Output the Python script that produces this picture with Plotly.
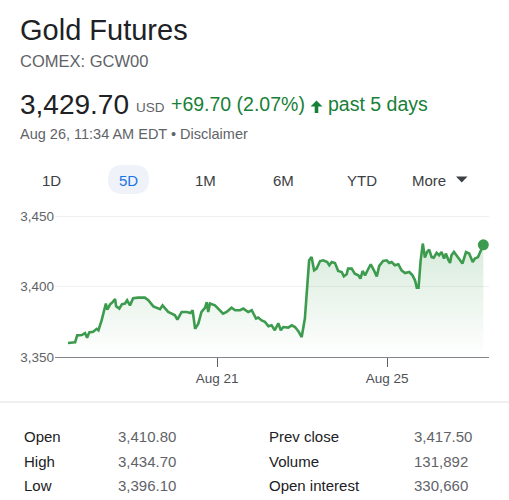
import plotly.graph_objects as go

# ---------------- data ----------------
# trading time in hours since the first point of the 5-day window
t_hours = [0, 2.0, 2.6, 3.9, 4.8, 5.4, 6.0, 7.1, 8.1, 8.6, 9.5, 10.0, 10.7, 11.1, 11.9, 12.6, 13.3, 13.6,
           14.5, 15.2, 16.1, 16.7, 17.5, 18.4, 19.8, 21.7, 22.7, 24.1, 25.2, 26.0, 26.7, 27.4, 28.3, 29.3,
           30.2, 30.9, 32.1, 33.5, 34.6, 35.2, 35.9, 36.8, 37.7, 38.7, 39.2, 39.6, 40.1, 41.5, 42.4, 43.8,
           44.8, 46.2, 47.2, 48.6, 49.5, 50.9, 51.9, 52.8,
           53.1, 53.7, 54.7, 55.6, 56.6, 57.5, 58.4, 59.4, 60.1, 60.8, 62.2, 63.2, 64.1, 65.0, 66.0, 66.9,
           67.6, 68.1, 68.8, 69.5, 70.2, 71.2, 72.1, 73.2, 73.8, 74.5, 75.4, 76.3, 77.3, 77.9, 78.7, 79.1,
           80.1, 81.0, 82.0, 82.6, 83.2, 83.9, 84.5, 85.5, 86.4, 87.2, 87.9, 89.0, 90.0, 90.7, 91.4, 92.3,
           93.3, 94.2, 95.2, 96.4, 97.3, 98.0, 98.5, 99.0, 99.6, 100.2, 100.8, 101.4, 102.0, 102.7, 103.3,
           104.1, 104.8, 105.5, 106.2, 106.7, 107.4, 107.9, 108.3, 109.0, 109.7, 110.5, 111.4, 112.4, 113.3,
           114.3, 114.9, 115.8, 116.5, 117.3]
price = [3360, 3360.4, 3365.4, 3365.6, 3367, 3363.7, 3367.5, 3368, 3370, 3369, 3376, 3380.8, 3388, 3383.6,
         3387.4, 3389, 3391.2, 3386, 3384.4, 3387.4, 3388, 3390.3, 3386.7, 3391.7, 3392.2, 3392.2, 3390.3,
         3386, 3385, 3384, 3386.7, 3384.4, 3382, 3380.8, 3379.6, 3376.5, 3382, 3382, 3381.3, 3383.2, 3370,
         3373.7, 3382, 3385, 3389, 3382, 3388, 3386.7, 3384.4, 3380.8, 3382, 3385, 3383.2, 3383.2, 3384.4,
         3382, 3383.2, 3378,
         3377.3, 3378, 3376, 3375, 3371.8, 3372.5, 3369, 3374, 3369, 3371.3, 3370.9, 3372.5, 3371.3, 3368.5,
         3364.2, 3377.3, 3402, 3418.7, 3421, 3411.6, 3412.8, 3418.2, 3418.7, 3417.5, 3415.2, 3417.5, 3416.8,
         3411.1, 3410.4, 3407.3, 3408.8, 3412.8, 3412.8, 3409.2, 3408, 3405.7, 3411.1, 3408, 3411.1, 3415.9,
         3411.6, 3407.3, 3414.7, 3418.2, 3418.7, 3416.8, 3417.5, 3415.2, 3415.9, 3411.6, 3409.7, 3410.4, 3408,
         3404.5, 3399.3, 3399.3, 3418.7, 3430.6, 3420.6, 3424.6, 3426.3, 3421, 3420.6, 3424, 3422.3, 3424.6,
         3419.9, 3423.5, 3419.2, 3416.8, 3422.3, 3424.6, 3422.3, 3419.9, 3416.4, 3424.6, 3423.5, 3417.5,
         3419.9, 3421, 3424.6, 3429.7]

x_tick_vals = [42.1, 90.1]
x_tick_text = ["Aug 21", "Aug 25"]
y_tick_vals = [3350, 3400, 3450]

title = "Gold Futures"
ticker = "COMEX: GCW00"
last_price = "3,429.70"
currency = "USD"
change = "+69.70 (2.07%)"
period = "past 5 days"
timestamp = "Aug 26, 11:34 AM EDT • Disclaimer"
tabs = ["1D", "5D", "1M", "6M", "YTD", "More"]
active_tab = "5D"

stat_labels_left = ["Open", "High", "Low"]
stat_values_left = ["3,410.80", "3,434.70", "3,396.10"]
stat_labels_right = ["Prev close", "Volume", "Open interest"]
stat_values_right = ["3,417.50", "131,892", "330,660"]

# ---------------- layout helpers ----------------
W, H = 509, 500
L, R, T, B = 55, 20, 205, 143
PW, PH = W - L - R, H - T - B


def px(x):
    return (x - L) / PW


def py(y):
    return (H - B - y) / PH


FONT = "Liberation Sans, Arial, Helvetica, sans-serif"
GREEN_LINE = "#3d9b4e"
GREEN_TEXT = "#188038"
GRAY = "#5f6368"
DARK = "#202124"

fig = go.Figure()
fig.add_trace(go.Scatter(
    x=t_hours, y=price, mode="lines", fill="tozeroy",
    line=dict(color=GREEN_LINE, width=2.6),
    fillgradient=dict(type="vertical", start=3350, stop=3431,
                      colorscale=[[0, "rgba(61,155,78,0.0)"], [1, "rgba(61,155,78,0.20)"]]),
    hoverinfo="skip", showlegend=False,
))
fig.add_trace(go.Scatter(
    x=[t_hours[-1]], y=[price[-1]], mode="markers",
    marker=dict(color=GREEN_LINE, size=11), hoverinfo="skip", showlegend=False,
))

ann = []


def text(s, x, y, size, color, anchor="left"):
    ann.append(dict(text=s, x=px(x), y=py(y), xref="paper", yref="paper", showarrow=False,
                    xanchor=anchor, yanchor="middle", font=dict(family=FONT, size=size, color=color)))


text(title, 18, 30, 29, DARK)
text(ticker, 18, 61, 16.5, GRAY)
text(last_price, 18, 104, 28, DARK)
text(currency, 134, 107, 13.5, GRAY)
text(change, 169, 104, 19.5, GREEN_TEXT)
text(period, 326, 104, 19.5, GREEN_TEXT)
text(timestamp, 18, 134, 14.5, GRAY)

tab_centers = [51, 128, 205, 283, 362, 429]
for lab, cx in zip(tabs, tab_centers):
    text(lab, cx, 180, 15, "#1a73e8" if lab == active_tab else "#3c4043", anchor="center")

rows_y = [436, 461, 485]
for i, yy in enumerate(rows_y):
    text(stat_labels_left[i], 22, yy, 15, DARK)
    text(stat_values_left[i], 116, yy, 15, GRAY)
    text(stat_labels_right[i], 267, yy, 15, DARK)
    text(stat_values_right[i], 412, yy, 15, GRAY)

shapes = []
# active tab pill (rounded)
x0, x1, y0, y1, r = 108, 149, 165, 194, 14.5
pill = (f"M {px(x0 + r)},{py(y0)} L {px(x1 - r)},{py(y0)} "
        f"Q {px(x1)},{py(y0)} {px(x1)},{py(y0 + r)} "
        f"Q {px(x1)},{py(y1)} {px(x1 - r)},{py(y1)} L {px(x0 + r)},{py(y1)} "
        f"Q {px(x0)},{py(y1)} {px(x0)},{py(y1 - r)} Q {px(x0)},{py(y0)} {px(x0 + r)},{py(y0)} Z")
shapes.append(dict(type="path", path=pill, xref="paper", yref="paper", fillcolor="#eff2f8",
                   line=dict(width=0), layer="below"))
# dropdown triangle
tri = f"M {px(456)},{py(176.5)} L {px(467.5)},{py(176.5)} L {px(461.75)},{py(182.5)} Z"
shapes.append(dict(type="path", path=tri, xref="paper", yref="paper", fillcolor="#3c4043",
                   line=dict(width=0)))
# up arrow
arrow = (f"M {px(316.5)},{py(100.5)} L {px(322.5)},{py(106.5)} L {px(318.3)},{py(106.5)} "
         f"L {px(318.3)},{py(113)} L {px(314.7)},{py(113)} L {px(314.7)},{py(106.5)} "
         f"L {px(310.5)},{py(106.5)} Z")
shapes.append(dict(type="path", path=arrow, xref="paper", yref="paper", fillcolor=GREEN_TEXT,
                   line=dict(width=0)))
# separator
shapes.append(dict(type="line", x0=px(0), x1=px(W), y0=py(402), y1=py(402), xref="paper", yref="paper",
                   line=dict(color="#e0e0e0", width=1.2)))

fig.update_layout(
    width=W, height=H, margin=dict(l=L, r=R, t=T, b=B),
    paper_bgcolor="white", plot_bgcolor="white",
    annotations=ann, shapes=shapes,
    xaxis=dict(range=[-3.67, 118.9], showgrid=False, zeroline=False, showline=True,
               linecolor="#80868b", linewidth=1.2, ticks="outside", ticklen=9, tickwidth=1.2,
               tickcolor="#5f6368", tickvals=x_tick_vals, ticktext=x_tick_text,
               tickfont=dict(family=FONT, size=13.5, color="#4d5156"), fixedrange=True),
    yaxis=dict(range=[3350, 3458], showgrid=True, gridcolor="#eef0f2", gridwidth=1, zeroline=False,
               showline=False, ticks="", tickvals=y_tick_vals, tickformat=",",
               tickfont=dict(family=FONT, size=13.5, color="#5f6368"), fixedrange=True),
)

fig.write_html("out.html")
